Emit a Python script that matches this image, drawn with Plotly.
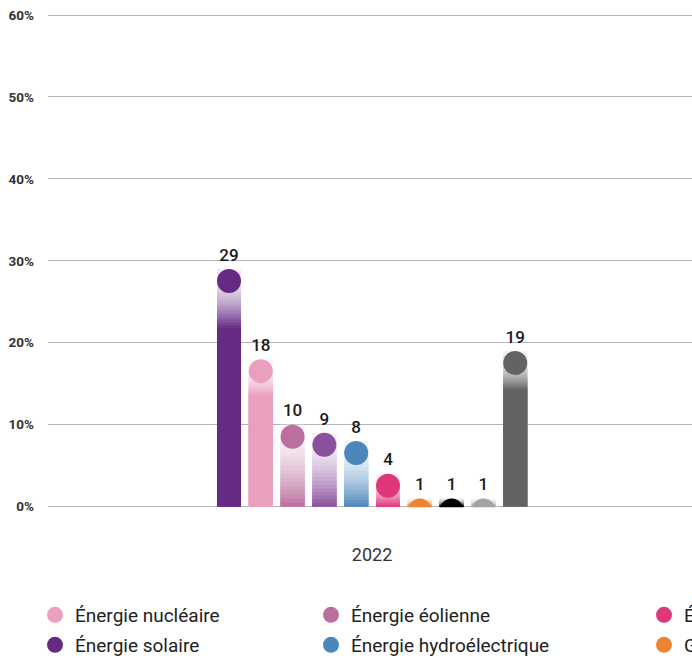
import plotly.graph_objects as go

# ---------------- data ----------------
category_label = "2022"
series_names = [
    "Énergie solaire",
    "Énergie nucléaire",
    "Énergie éolienne",
    "Énergie de la biomasse",
    "Énergie hydroélectrique",
    "Énergie géothermique",
    "Gaz naturel",
    "Charbon",
    "Pétrole",
    "Ne sait pas",
]
values = [29, 18, 10, 9, 8, 4, 1, 1, 1, 19]
colors = [
    "#662a84", "#eb9fbe", "#bb6f9f", "#8a4f9d", "#4b87bb",
    "#e0377b", "#ec8533", "#000000", "#a3a3a3", "#626463",
]
y_ticks = [0, 10, 20, 30, 40, 50, 60]
y_tick_labels = ["0%", "10%", "20%", "30%", "40%", "50%", "60%"]
# legend slot (column, row) of each visible legend entry
legend_slots = {
    "Énergie nucléaire": (0, 0),
    "Énergie solaire": (0, 1),
    "Énergie éolienne": (1, 0),
    "Énergie hydroélectrique": (1, 1),
    "Énergie géothermique": (2, 0),
    "Gaz naturel": (2, 1),
}

# ---------------- layout constants ----------------
W, H = 692, 658
px_per_y = 492 / 60          # 0 % at y=507, 60 % at y=15
y_lo, y_hi = -2.0, 60.125    # small pads so the 60 % grid line and cut circles render
M_L, M_R = 48, 0
M_T = 15 - (y_hi - 60) * px_per_y
plot_h = (y_hi - y_lo) * px_per_y
M_B = H - M_T - plot_h
plot_w = W - M_L - M_R
bar_step_px = 31.8
first_bar_px = 229 - M_L
x0 = -first_bar_px / bar_step_px
x1 = x0 + plot_w / bar_step_px
marker_d = 24
r_units = (marker_d / 2) / px_per_y

xs = list(range(len(values)))


def hex_to_rgb(h):
    h = h.lstrip("#")
    return tuple(int(h[i:i + 2], 16) for i in (0, 2, 4))


def mix(c, a):
    r, g, b = hex_to_rgb(c)
    return "rgb(%d,%d,%d)" % (
        round(255 + (r - 255) * a),
        round(255 + (g - 255) * a),
        round(255 + (b - 255) * a),
    )


fig = go.Figure()

# gradient bars: overlaid layers, lightest/tallest first
N = 20
f0 = 0.08
for k in range(N + 1):
    tops = []
    cols = []
    for v, c in zip(values, colors):
        D = 0.25 * v if v > 12 else float(v)
        tops.append(v - D * k / N)
        t = min(1.0, (k + 0.5) / N) if k < N else 1.0
        a = f0 + (1 - f0) * (t ** 1.8)
        cols.append(mix(c, a))
    fig.add_trace(go.Bar(
        x=xs, y=tops, width=0.755,
        marker=dict(color=cols, line=dict(width=0)),
        showlegend=False, hoverinfo="skip",
    ))

# circles on top of bars (also legend entries)
for i, (name, v, c) in enumerate(zip(series_names, values, colors)):
    slot = legend_slots.get(name)
    kw = {}
    if slot is not None:
        idx = slot[0] * 2 + slot[1] + 1
        kw["legend"] = "legend" if idx == 1 else "legend%d" % idx
        kw["showlegend"] = True
    else:
        kw["showlegend"] = False
    fig.add_trace(go.Scatter(
        x=[i], y=[v - r_units], mode="markers", name=name,
        marker=dict(size=marker_d, color=c, line=dict(width=0)),
        cliponaxis=True, hovertemplate=name + ": %{text}%<extra></extra>",
        text=[v], **kw,
    ))

# value labels (transparent anchor marker gives the gap above the circle)
fig.add_trace(go.Scatter(
    x=xs, y=values, mode="markers+text", text=[str(v) for v in values],
    textposition="top center",
    marker=dict(size=5, opacity=0),
    textfont=dict(family="Roboto", size=17, color="#1a1a1a", weight=500),
    showlegend=False, hoverinfo="skip", cliponaxis=False,
))

# white band under the baseline: circles of very small values are cut by the axis
fig.add_shape(
    type="rect", xref="paper", yref="y", layer="above",
    x0=0, x1=1, y0=y_lo, y1=-0.6 / px_per_y,
    fillcolor="white", line=dict(width=0),
)

layout_legends = {}
col_px = [35, 311, 644]
row_px = [615, 645]
for name, (cidx, ridx) in legend_slots.items():
    idx = cidx * 2 + ridx + 1
    key = "legend" if idx == 1 else "legend%d" % idx
    layout_legends[key] = dict(
        xref="container", yref="container",
        x=col_px[cidx] / W, y=1 - row_px[ridx] / H,
        xanchor="left", yanchor="middle",
        font=dict(family="Roboto", size=19, color="#222222"),
        bgcolor="rgba(0,0,0,0)", borderwidth=0,
    )

fig.update_layout(
    width=W, height=H,
    margin=dict(l=M_L, r=M_R, t=M_T, b=M_B, autoexpand=False),
    paper_bgcolor="white", plot_bgcolor="white",
    barmode="overlay",
    font=dict(family="Roboto", color="#222222"),
    xaxis=dict(
        range=[x0, x1], tickvals=[(len(values) - 1) / 2], ticktext=[category_label],
        showgrid=False, zeroline=False, showline=False, ticks="",
        tickfont=dict(family="Roboto", size=18, color="#333333"),
        ticklabelstandoff=int(round(35 - (0 - y_lo) * px_per_y)),
    ),
    yaxis=dict(
        range=[y_lo, y_hi], tickvals=y_ticks, ticktext=y_tick_labels,
        showgrid=True, gridcolor="#b4b4b4", gridwidth=1,
        zeroline=False, showline=False, ticks="",
        tickfont=dict(family="Roboto", size=13.5, color="#333333", weight="bold"),
        ticklabelstandoff=13,
    ),
    **layout_legends,
)

fig.write_html(
    "out.html",
    config={"displayModeBar": False},
    post_script="document.body.style.margin='0';document.body.style.overflow='hidden';",
)
